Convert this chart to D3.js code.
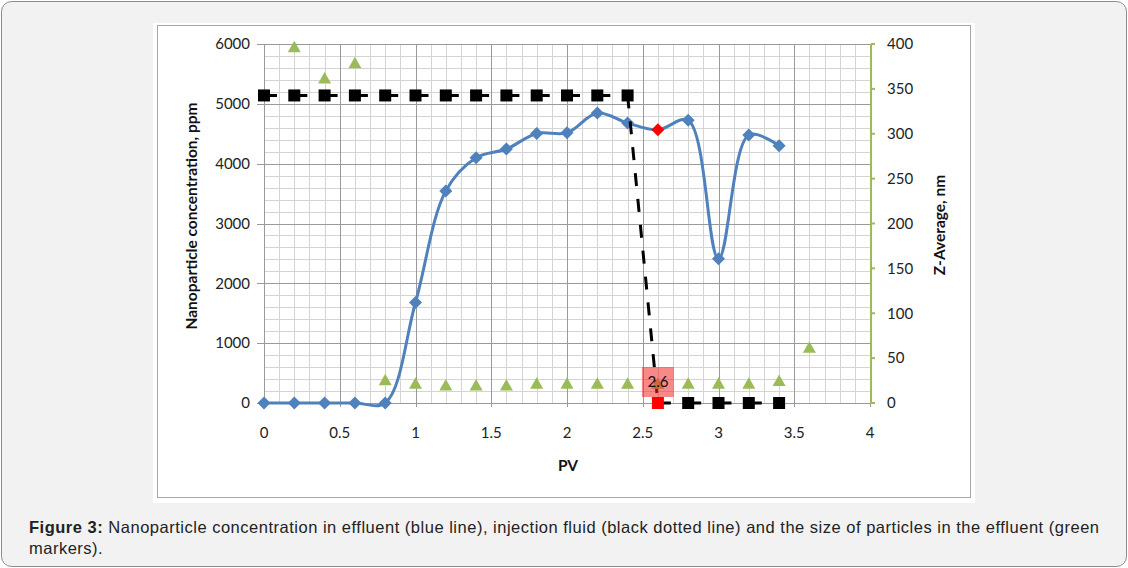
<!DOCTYPE html>
<html>
<head>
<meta charset="utf-8">
<script src="https://cdn.jsdelivr.net/npm/d3@7"></script>
<style>
  body { margin: 0; background: #fff; }
  svg { display: block; }
</style>
</head>
<body>
<div id="chart"></div>
<script>
/* ===== Data ===== */
const pv = [0, 0.2, 0.4, 0.6, 0.8, 1.0, 1.2, 1.4, 1.6, 1.8, 2.0, 2.2, 2.4, 2.6, 2.8, 3.0, 3.2, 3.4];
const concentration = [0, 0, 0, 0, 0, 1680, 3545, 4100, 4245, 4505, 4515, 4845, 4680, 4565, 4725, 2410, 4480, 4300];
const injection = [5140, 5140, 5140, 5140, 5140, 5140, 5140, 5140, 5140, 5140, 5140, 5140, 5140, 0, 0, 0, 0, 0];
const zPv = [0.2, 0.4, 0.6, 0.8, 1.0, 1.2, 1.4, 1.6, 1.8, 2.0, 2.2, 2.4, 2.6, 2.8, 3.0, 3.2, 3.4, 3.6];
const zAverage = [397, 362, 379, 26, 22, 20, 20, 20, 22, 22, 22, 22, 22, 22, 22, 22, 25, 62];
const highlightPv = 2.6;

const xTicks = [0, 0.5, 1, 1.5, 2, 2.5, 3, 3.5, 4];
const yLeftTicks = [0, 1000, 2000, 3000, 4000, 5000, 6000];
const yRightTicks = [0, 50, 100, 150, 200, 250, 300, 350, 400];

const caption1Bold = 'Figure 3:';
const caption1 = ' Nanoparticle concentration in effluent (blue line), injection fluid (black dotted line) and the size of particles in the effluent (green';
const caption2 = 'markers).';

/* ===== Layout ===== */
const W = 1128, H = 568;
const plot = { left: 264, right: 870, top: 44, bottom: 403 };
const blue = '#4f81bd', green = '#9bbb59';
const chartFont = 'Lato, "Open Sans", sans-serif';
const capFont = '"Liberation Sans", Arial, sans-serif';

const svg = d3.select('#chart').append('svg')
  .attr('width', W)
  .attr('height', H);

// page frame
svg.append('rect')
  .attr('x', 1.5).attr('y', 1.5)
  .attr('width', W - 3).attr('height', H - 3)
  .attr('rx', 10)
  .attr('fill', '#f2f2f2')
  .attr('stroke', '#8a8a8a');

// figure image box
svg.append('rect')
  .attr('x', 153).attr('y', 23)
  .attr('width', 822).attr('height', 480)
  .attr('fill', '#fff');
svg.append('rect')
  .attr('x', 157.5).attr('y', 25.5)
  .attr('width', 813).attr('height', 472)
  .attr('fill', 'none')
  .attr('stroke', '#a6a6a6');

const x = d3.scaleLinear().domain([0, 4]).range([plot.left, plot.right]);
const yL = d3.scaleLinear().domain([0, 6000]).range([plot.bottom, plot.top]);
const yR = d3.scaleLinear().domain([0, 400]).range([plot.bottom, plot.top]);

/* ---- Grid ---- */
const g = svg.append('g');
const minorX = d3.range(0, 41).map(i => i / 10).filter(v => Math.abs(v * 2 - Math.round(v * 2)) > 1e-6);
const minorY = d3.range(0, 6001, 200).filter(v => v % 1000 !== 0);

g.selectAll('.minor-x').data(minorX).join('line')
  .attr('x1', d => Math.round(x(d)) + 0.5).attr('x2', d => Math.round(x(d)) + 0.5)
  .attr('y1', plot.top).attr('y2', plot.bottom)
  .attr('stroke', '#d4d4d4');
g.selectAll('.minor-y').data(minorY).join('line')
  .attr('x1', plot.left).attr('x2', plot.right)
  .attr('y1', d => Math.round(yL(d)) + 0.5).attr('y2', d => Math.round(yL(d)) + 0.5)
  .attr('stroke', '#d4d4d4');
g.selectAll('.major-x').data(xTicks).join('line')
  .attr('x1', d => Math.round(x(d)) + 0.5).attr('x2', d => Math.round(x(d)) + 0.5)
  .attr('y1', plot.top).attr('y2', plot.bottom + 4)
  .attr('stroke', '#9a9a9a');
g.selectAll('.major-y').data(yLeftTicks).join('line')
  .attr('x1', plot.left - 7).attr('x2', plot.right)
  .attr('y1', d => Math.round(yL(d)) + 0.5).attr('y2', d => Math.round(yL(d)) + 0.5)
  .attr('stroke', '#9a9a9a');

/* ---- Axes labels ---- */
svg.selectAll('.yl-label').data(yLeftTicks).join('text')
  .attr('x', plot.left - 14)
  .attr('y', d => yL(d))
  .attr('dy', '0.35em')
  .attr('text-anchor', 'end')
  .attr('font-family', chartFont)
  .attr('font-size', '15px')
  .attr('fill', '#222')
  .text(d => d);

svg.selectAll('.x-label').data(xTicks).join('text')
  .attr('x', d => x(d))
  .attr('y', plot.bottom + 30)
  .attr('dy', '0.35em')
  .attr('text-anchor', 'middle')
  .attr('font-family', chartFont)
  .attr('font-size', '15px')
  .attr('fill', '#222')
  .text(d => d);

// right axis (green)
svg.append('line')
  .attr('x1', plot.right + 1).attr('x2', plot.right + 1)
  .attr('y1', plot.top).attr('y2', plot.bottom + 1)
  .attr('stroke', green).attr('stroke-width', 2);
svg.selectAll('.yr-tick').data(yRightTicks).join('line')
  .attr('x1', plot.right + 1).attr('x2', plot.right + 5)
  .attr('y1', d => yR(d)).attr('y2', d => yR(d))
  .attr('stroke', green).attr('stroke-width', 2);
svg.selectAll('.yr-label').data(yRightTicks).join('text')
  .attr('x', plot.right + 17)
  .attr('y', d => yR(d))
  .attr('dy', '0.35em')
  .attr('font-family', chartFont)
  .attr('font-size', '15px')
  .attr('fill', '#222')
  .text(d => d);

// axis titles
svg.append('text')
  .attr('transform', 'translate(192,216) rotate(-90)')
  .attr('text-anchor', 'middle')
  .attr('dy', '0.35em')
  .attr('font-family', chartFont)
  .attr('font-size', '15.5px')
  .attr('font-weight', 'bold')
  .attr('fill', '#111')
  .text('Nanoparticle concentration, ppm');
svg.append('text')
  .attr('transform', 'translate(940,225) rotate(-90)')
  .attr('text-anchor', 'middle')
  .attr('dy', '0.35em')
  .attr('font-family', chartFont)
  .attr('font-size', '15.5px')
  .attr('font-weight', 'bold')
  .attr('fill', '#111')
  .text('Z-Average, nm');
svg.append('text')
  .attr('x', 568).attr('y', 466)
  .attr('dy', '0.35em')
  .attr('text-anchor', 'middle')
  .attr('font-family', chartFont)
  .attr('font-size', '15.5px')
  .attr('font-weight', 'bold')
  .attr('fill', '#111')
  .text('PV');

/* ---- Effluent concentration (blue) ---- */
const conc = pv.map((p, i) => ({ pv: p, v: concentration[i] }));
const line = d3.line()
  .x(d => x(d.pv))
  .y(d => yL(d.v))
  .curve(d3.curveCatmullRom.alpha(0.5));

svg.append('path')
  .datum(conc)
  .attr('fill', 'none')
  .attr('stroke', blue)
  .attr('stroke-width', 3)
  .attr('stroke-linejoin', 'round')
  .attr('d', line);

svg.selectAll('.diamond').data(conc).join('rect')
  .attr('x', -4.6).attr('y', -4.6)
  .attr('width', 9.2).attr('height', 9.2)
  .attr('transform', d => `translate(${x(d.pv)},${yL(d.v)}) rotate(45)`)
  .attr('fill', d => d.pv === highlightPv ? '#ff0000' : blue);

/* ---- Injection fluid (black dashed) ---- */
const inj = pv.map((p, i) => ({ pv: p, v: injection[i] }));
svg.selectAll('.inj-seg').data(d3.pairs(inj)).join('line')
  .attr('x1', d => x(d[0].pv)).attr('y1', d => yL(d[0].v))
  .attr('x2', d => x(d[1].pv)).attr('y2', d => yL(d[1].v))
  .attr('stroke', '#000')
  .attr('stroke-width', 3)
  .attr('stroke-dasharray', '13,13');

svg.selectAll('.square').data(inj).join('rect')
  .attr('x', d => x(d.pv) - 6)
  .attr('y', d => yL(d.v) - 6)
  .attr('width', 12).attr('height', 12)
  .attr('fill', d => d.pv === highlightPv ? '#ff0000' : '#000');

/* ---- Z-Average (green triangles) ---- */
const zs = zPv.map((p, i) => ({ pv: p, v: zAverage[i] }));
svg.selectAll('.tri').data(zs).join('path')
  .attr('transform', d => `translate(${x(d.pv)},${yR(d.v)})`)
  .attr('d', 'M0,-6L6.5,5.5L-6.5,5.5Z')
  .attr('fill', green);

/* ---- Data label at breakthrough ---- */
const lbl = svg.append('g')
  .attr('transform', `translate(${x(highlightPv)},${yL(0) - 21})`);
lbl.append('rect')
  .attr('x', -16).attr('y', -15)
  .attr('width', 32).attr('height', 30)
  .attr('fill', 'rgba(240,40,40,0.55)');
lbl.append('text')
  .attr('text-anchor', 'middle')
  .attr('dy', '0.35em')
  .attr('font-family', chartFont)
  .attr('font-size', '15px')
  .attr('fill', '#111')
  .text(highlightPv);

/* ---- Caption ---- */
const cap = svg.append('text')
  .attr('x', 29).attr('y', 533)
  .attr('font-family', capFont)
  .attr('font-size', '16.5px')
  .attr('textLength', 1070)
  .attr('lengthAdjust', 'spacing')
  .attr('fill', '#222');
cap.append('tspan').attr('font-weight', 'bold').text(caption1Bold);
cap.append('tspan').text(caption1);
svg.append('text')
  .attr('x', 29).attr('y', 554)
  .attr('font-family', capFont)
  .attr('font-size', '16.5px')
  .attr('letter-spacing', '0.5px')
  .attr('fill', '#222')
  .text(caption2);
</script>
</body>
</html>
